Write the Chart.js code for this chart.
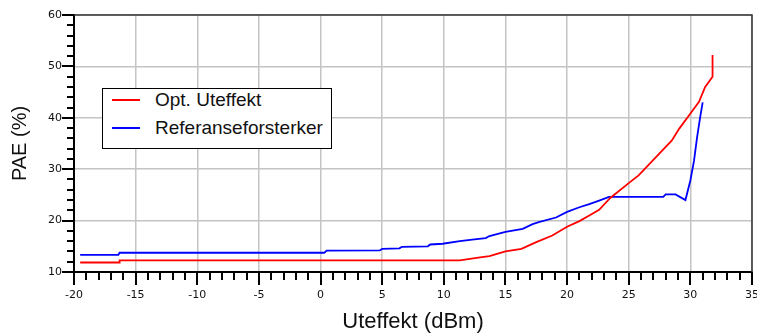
<!DOCTYPE html>
<html>
<head>
<meta charset="utf-8">
<script src="https://cdn.jsdelivr.net/npm/chart.js@4.4.0/dist/chart.umd.min.js"></script>
<style>
  html, body { margin: 0; padding: 0; background: #fff; }
  #wrap { position: relative; width: 757px; height: 336px; }
  #legend {
    position: absolute; left: 102px; top: 88px; width: 230px; height: 61px;
    box-sizing: border-box; border: 1.5px solid #000; background: #fff;
    font-family: "Liberation Sans", Arial, sans-serif; font-size: 19px; color: #111;
  }
  .swatch { position: absolute; left: 9px; width: 28px; height: 1.5px; }
  .label { position: absolute; left: 52px; white-space: nowrap; line-height: 20px; }
</style>
</head>
<body>
<div id="wrap">
  <canvas id="pae-chart" width="757" height="336"></canvas>
  <div id="legend"></div>
</div>
<script>
const seriesNames = ['Opt. Uteffekt', 'Referanseforsterker'];
const seriesColors = ['#ff0000', '#0000ff'];

// Opt. Uteffekt (red)
const optX = [-19.5, -16.3, -16.3, 11.3, 12.8, 13.7, 15.0, 16.3, 17.5, 18.8, 20.0, 21.0, 21.8, 22.6,
  23.5, 25.0, 25.8, 26.4, 27.5, 28.5, 29.1, 29.9, 30.7, 31.2, 31.8, 31.8];
const optY = [11.85, 11.85, 12.25, 12.25, 12.8, 13.1, 14.0, 14.5, 15.8, 17.1, 18.8, 19.9, 21.0, 22.1,
  24.4, 27.3, 28.8, 30.3, 33.1, 35.6, 37.9, 40.5, 43.1, 46.0, 48.0, 52.2];

// Referanseforsterker (blue)
const refX = [-19.5, -16.4, -16.3, 0.3, 0.5, 4.8, 5.0, 6.4, 6.6, 8.7, 8.9, 9.9, 11.3, 12.3, 13.4, 13.7,
  15.0, 16.4, 17.2, 17.7, 19.1, 20.0, 21.0, 21.8, 22.6, 23.4, 27.8, 28.0, 28.8, 29.6, 30.0, 30.3,
  30.55, 30.8, 31.0];
const refY = [13.35, 13.35, 13.75, 13.75, 14.15, 14.2, 14.5, 14.6, 14.9, 15.0, 15.35, 15.5, 16.0, 16.3,
  16.6, 17.0, 17.8, 18.4, 19.3, 19.7, 20.6, 21.7, 22.6, 23.2, 23.9, 24.6, 24.6, 25.1, 25.1, 24.0,
  27.8, 31.7, 36.3, 40.2, 43.0];

const X_MIN = -20, X_MAX = 35, X_STEP = 5, X_MINOR = 1;
const Y_MIN = 10, Y_MAX = 60, Y_STEP = 10, Y_MINOR = 2;

function toPoints(xs, ys) {
  return xs.map((x, i) => ({ x, y: ys[i] }));
}

// tick marks outside the axes (major + minor) and the top/right frame
const axisMarks = {
  id: 'axisMarks',
  afterDraw(chart) {
    const { ctx, chartArea: area, scales: { x, y } } = chart;
    ctx.save();
    ctx.strokeStyle = '#000';
    ctx.lineWidth = 2;
    ctx.beginPath();
    for (let v = X_MIN; v <= X_MAX; v += X_MINOR) {
      const px = Math.round(x.getPixelForValue(v));
      const len = v % X_STEP === 0 ? 13 : 8;
      ctx.moveTo(px, area.bottom);
      ctx.lineTo(px, area.bottom + len);
    }
    for (let v = Y_MIN; v <= Y_MAX; v += Y_MINOR) {
      const py = Math.round(y.getPixelForValue(v));
      const len = v % Y_STEP === 0 ? 12 : 7;
      ctx.moveTo(area.left, py);
      ctx.lineTo(area.left - len, py);
    }
    ctx.stroke();
    ctx.strokeStyle = '#333';
    ctx.lineWidth = 1.5;
    ctx.beginPath();
    ctx.moveTo(area.left, area.top);
    ctx.lineTo(area.right, area.top);
    ctx.lineTo(area.right, area.bottom);
    ctx.stroke();
    ctx.restore();
  }
};

const tickFont = { family: '"DejaVu Sans", sans-serif', size: 11 };
const titleFont = { family: '"Liberation Sans", Arial, sans-serif', size: 22 };

new Chart(document.getElementById('pae-chart'), {
  type: 'line',
  data: {
    datasets: [
      {
        label: seriesNames[0],
        data: toPoints(optX, optY),
        borderColor: seriesColors[0],
        borderWidth: 1.8,
        pointRadius: 0,
        tension: 0,
      },
      {
        label: seriesNames[1],
        data: toPoints(refX, refY),
        borderColor: seriesColors[1],
        borderWidth: 1.8,
        pointRadius: 0,
        tension: 0,
      },
    ],
  },
  options: {
    responsive: false,
    animation: false,
    layout: { padding: { left: 0, right: 5, top: 15, bottom: 0 } },
    plugins: { legend: { display: false }, tooltip: { enabled: false } },
    scales: {
      x: {
        type: 'linear',
        min: X_MIN,
        max: X_MAX,
        ticks: { stepSize: X_STEP, padding: 17, color: '#111', font: tickFont, maxRotation: 0 },
        grid: { color: '#c4c4c4', lineWidth: 1.5, drawTicks: false },
        border: { color: '#000', width: 2 },
        title: { display: true, text: 'Uteffekt (dBm)', color: '#111', font: titleFont, padding: { top: 0, bottom: 1 } },
        afterFit(scale) {
          scale.height = 64;
          scale.paddingLeft = 0;
          scale.paddingRight = 0;
        },
      },
      y: {
        min: Y_MIN,
        max: Y_MAX,
        ticks: { stepSize: Y_STEP, padding: 12, color: '#111', font: tickFont },
        grid: { color: '#c4c4c4', lineWidth: 1.5, drawTicks: false },
        border: { color: '#000', width: 2 },
        title: { display: true, text: 'PAE (%)', color: '#111', font: { ...titleFont, size: 20 }, padding: { top: 8, bottom: 0 } },
        afterFit(scale) {
          scale.width = 74;
          scale.paddingTop = 0;
          scale.paddingBottom = 0;
        },
      },
    },
  },
  plugins: [axisMarks],
});

const legend = document.getElementById('legend');
seriesNames.forEach((name, i) => {
  const top = 10 + i * 28;
  const swatch = document.createElement('div');
  swatch.className = 'swatch';
  swatch.style.top = top + 'px';
  swatch.style.background = seriesColors[i];
  const label = document.createElement('div');
  label.className = 'label';
  label.style.top = (top - 9) + 'px';
  label.textContent = name;
  legend.appendChild(swatch);
  legend.appendChild(label);
});
</script>
</body>
</html>
